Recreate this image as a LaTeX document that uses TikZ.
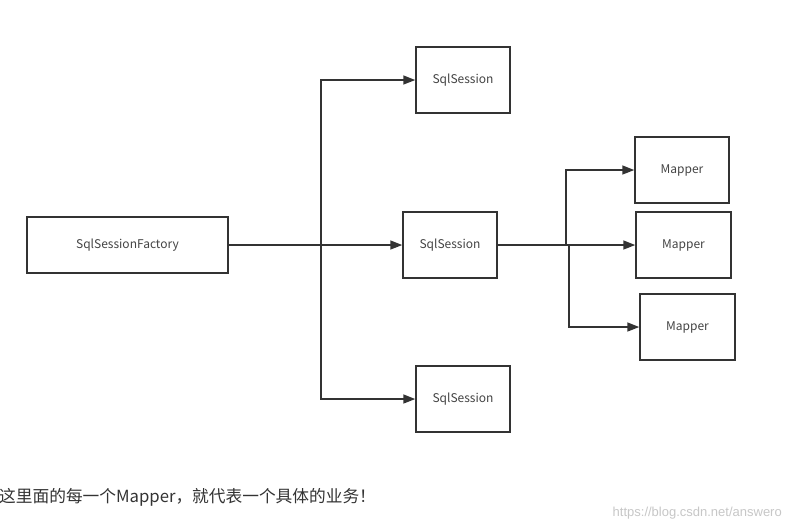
\documentclass[tikz,border=0pt]{standalone}
\usepackage{fontspec}
\setmainfont{Noto Sans CJK SC}
\newfontfamily\wmfont{Liberation Sans}
\usetikzlibrary{arrows.meta}
\definecolor{ln}{HTML}{333333}
\definecolor{tx}{HTML}{444444}
\begin{document}
\begin{tikzpicture}[x=1pt,y=-1pt,
  box/.style={draw=ln,line width=1.5pt,inner sep=0pt,minimum width=94pt,minimum height=66pt,
    text=tx,font=\fontsize{12}{14}\selectfont},
  conn/.style={draw=ln,line width=1.6pt},
  arr/.style={conn,-{Triangle[length=12pt,width=9pt]}}]
\useasboundingbox (0,0) rectangle (791,531);
\fill[white] (0,0) rectangle (791,531);
\node[box,minimum width=201pt,minimum height=56pt] (fac) at (127.5,245) {SqlSessionFactory};
\node[box] (s1) at (463,80) {SqlSession};
\node[box] (s2) at (450,245) {SqlSession};
\node[box] (s3) at (463,399) {SqlSession};
\node[box] (m1) at (682,170) {Mapper};
\node[box,minimum width=95pt] (m2) at (683.5,245) {Mapper};
\node[box,minimum width=95pt] (m3) at (687.5,327) {Mapper};
\coordinate (t) at (321,245);
\coordinate (b1) at (566,245);
\coordinate (b2) at (569,245);
\draw[arr] (fac.east) -- (s2.west);
\draw[arr] (t) |- (s1.west);
\draw[arr] (t) |- (s3.west);
\draw[arr] (s2.east) -- (m2.west);
\draw[arr] (b1) |- (m1.west);
\draw[arr] (b2) |- (m3.west);
\node[anchor=west,inner sep=0pt,text=ln,font=\fontsize{16.7}{19}\selectfont] (cap) at (-1,497) {这里面的每一个Mapper，就代表一个具体的业务！};
\node[anchor=east,inner sep=0pt,text=black!22,font=\wmfont\fontsize{13}{15}\selectfont] (wm) at (782,513) {https://blog.csdn.net/answero};
\end{tikzpicture}
\end{document}
